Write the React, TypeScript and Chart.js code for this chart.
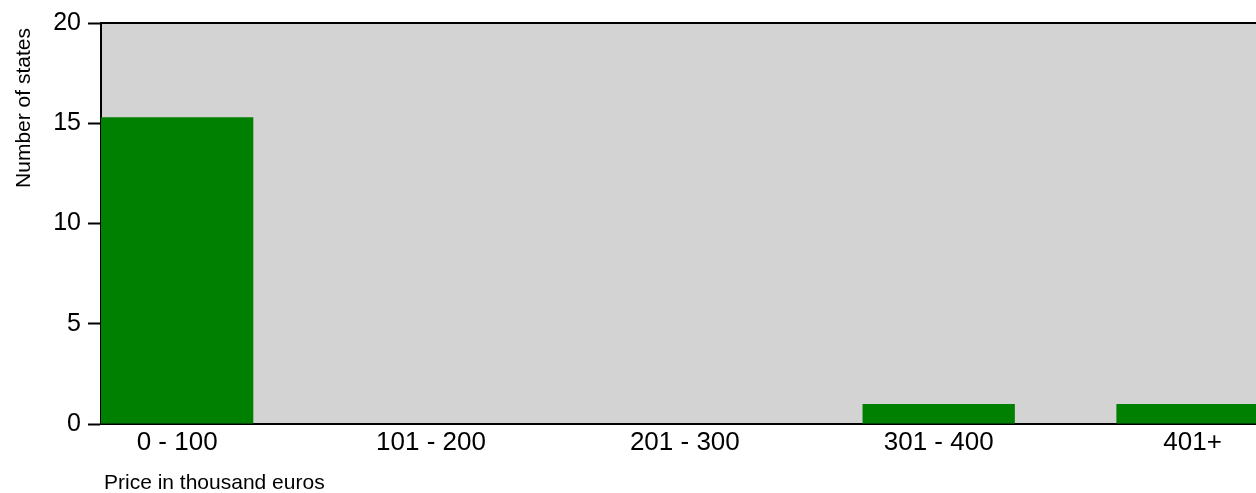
import React, { useEffect, useRef } from "react";
import { Chart, registerables } from "chart.js";

Chart.register(...registerables);

const categories: string[] = ["0 - 100", "101 - 200", "201 - 300", "301 - 400", "401+"];
const counts: number[] = [15.3, 0, 0, 1, 1];
const yTicks: number[] = [0, 5, 10, 15, 20];
const xTitle = "Price in thousand euros";
const yTitle = "Number of states";

const FONT = "'Liberation Sans', Arial, sans-serif";

const plotDecor = {
  id: "plotDecor",
  beforeDraw(chart: any) {
    const { ctx, chartArea } = chart;
    ctx.save();
    ctx.fillStyle = "#d3d3d3";
    ctx.fillRect(chartArea.left, chartArea.top, chartArea.right - chartArea.left, chartArea.bottom - chartArea.top);
    ctx.restore();
  },
  afterDraw(chart: any) {
    const { ctx, chartArea } = chart;
    ctx.save();
    ctx.strokeStyle = "#000";
    ctx.lineWidth = 2;
    ctx.beginPath();
    ctx.moveTo(chartArea.left, chartArea.top);
    ctx.lineTo(chartArea.right, chartArea.top);
    ctx.stroke();

    // axis titles
    ctx.fillStyle = "#000";
    ctx.font = `21px ${FONT}`;
    ctx.textAlign = "left";
    ctx.textBaseline = "alphabetic";
    ctx.fillText(xTitle, chartArea.left + 3, chartArea.bottom + 65);

    ctx.translate(24, chartArea.top + 5);
    ctx.rotate(-Math.PI / 2);
    ctx.textAlign = "right";
    ctx.textBaseline = "middle";
    ctx.fillText(yTitle, 0, 0);
    ctx.restore();
  },
};

export default function App() {
  const ref = useRef<HTMLCanvasElement | null>(null);

  useEffect(() => {
    if (!ref.current) return;
    const chart = new Chart(ref.current, {
      type: "bar",
      data: {
        datasets: [
          {
            label: yTitle,
            data: counts.map((v, i) => ({ x: i, y: v })),
            backgroundColor: "#008000",
            borderWidth: 0,
            categoryPercentage: 1,
            barPercentage: 0.6,
          },
        ],
      },
      options: {
        animation: false,
        responsive: false,
        maintainAspectRatio: false,
        layout: { padding: { top: 23, right: 0, left: 0, bottom: 0 } },
        plugins: { legend: { display: false }, tooltip: { enabled: false } },
        scales: {
          x: {
            type: "linear",
            offset: false,
            min: -0.3,
            max: 4.25,
            afterFit: (s: any) => {
              s.height = 69;
            },
            grid: { drawOnChartArea: false, drawTicks: false, display: true, offset: false },
            border: { display: true, color: "#000", width: 2 },
            ticks: {
              stepSize: 1,
              includeBounds: false,
              autoSkip: false,
              maxRotation: 0,
              padding: 3,
              color: "#000",
              font: { family: FONT, size: 26 },
              callback: (v: any) => (Number.isInteger(v) && categories[v] !== undefined ? categories[v] : ""),
            },
            title: { display: false },
          },
          y: {
            min: yTicks[0],
            max: yTicks[yTicks.length - 1],
            afterFit: (s: any) => {
              s.width = 101;
            },
            afterBuildTicks: (s: any) => {
              s.ticks = yTicks.map((v) => ({ value: v }));
            },
            grid: {
              drawOnChartArea: false,
              drawTicks: true,
              tickLength: 13,
              tickColor: "#000",
              tickWidth: 2,
            },
            border: { display: true, color: "#000", width: 2 },
            ticks: {
              padding: 7,
              color: "#000",
              font: { family: FONT, size: 25 },
            },
            title: { display: false },
          },
        },
      },
      plugins: [plotDecor],
    });
    return () => chart.destroy();
  }, []);

  return (
    <div style={{ position: "fixed", left: 0, top: 0, width: 1256, height: 493, overflow: "hidden", background: "#fff" }}>
      <canvas ref={ref} width={1256} height={493} style={{ display: "block", width: 1256, height: 493 }} />
    </div>
  );
}
